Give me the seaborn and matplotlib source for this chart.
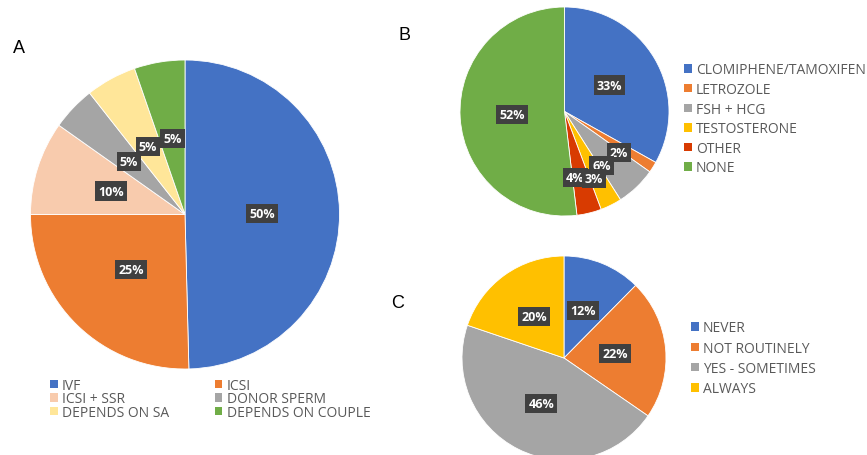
import matplotlib
matplotlib.use("Agg")
import matplotlib.pyplot as plt
import seaborn as sns
import numpy as np
from matplotlib.patches import Patch

sns.set_theme(style="white")
plt.rcParams['font.family'] = ['Open Sans', 'DejaVu Sans']

# ---------------- data ----------------
a_labels = ["IVF", "ICSI", "ICSI + SSR", "DONOR SPERM", "DEPENDS ON SA", "DEPENDS ON COUPLE"]
a_values = [49.6, 25.4, 9.8, 4.6, 5.3, 5.3]

b_labels = ["CLOMIPHENE/TAMOXIFEN", "LETROZOLE", "FSH + HCG", "TESTOSTERONE", "OTHER", "NONE"]
b_values = [33.1, 1.7, 6.2, 3.3, 3.8, 51.9]

c_labels = ["NEVER", "NOT ROUTINELY", "YES - SOMETIMES", "ALWAYS"]
c_values = [12.4, 22.2, 45.6, 19.8]

# ---------------- styles ----------------
a_colors = ["#4472C4", "#ED7D31", "#F8CBAD", "#A5A5A5", "#FFE699", "#70AD47"]
b_colors = ["#4472C4", "#ED7D31", "#A5A5A5", "#FFC000", "#D83B01", "#70AD47"]
c_colors = ["#4472C4", "#ED7D31", "#A5A5A5", "#FFC000"]
# label placement tweaks for pie B (radial distance, clockwise angle offset, stacking order)
b_label_dist = [0.5, 0.65, 0.625, 0.70, 0.64, 0.5]
b_label_shift = [0, 4.6, 8.8, 2.7, 4.5, 0]
b_label_z = [5, 5, 5, 6, 5, 5]

W, H = 867, 456
fig = plt.figure(figsize=(W / 100, H / 100), dpi=100)
fig.patch.set_facecolor("white")

TXT = "#595959"
box = dict(boxstyle="square,pad=0.25", fc="#404040", ec="none")


def pie_ax(cx, cy, r):
    ax = fig.add_axes([(cx - r) / W, (H - cy - r) / H, 2 * r / W, 2 * r / H])
    return ax


def draw_pie(ax, values, colors):
    wedges, _, autotexts = ax.pie(
        values, colors=colors, startangle=90, counterclock=False, radius=1,
        wedgeprops=dict(edgecolor="white", linewidth=0.6),
        autopct="%.0f%%", pctdistance=0.5,
        textprops=dict(color="white", fontsize=9, fontweight="bold"),
    )
    for t in autotexts:
        t.set_bbox(box)
    ax.set_xlim(-1, 1)
    ax.set_ylim(-1, 1)
    ax.axis("off")
    return wedges, autotexts


def legend(labels, colors, x, y, ncol=1, order=None, **kw):
    handles = [Patch(facecolor=c, edgecolor="none") for c in colors]
    labs = list(labels)
    if order is not None:
        handles = [handles[i] for i in order]
        labs = [labs[i] for i in order]
    fig.legend(handles, labs, loc="upper left", bbox_to_anchor=(x / W, 1 - y / H),
               ncol=ncol, frameon=False, fontsize=10, labelcolor=TXT,
               handlelength=0.55, handleheight=0.55, handletextpad=0.3,
               borderpad=0, borderaxespad=0, **kw)


# Pie A
axA = pie_ax(185, 215.5, 154.5)
draw_pie(axA, a_values, a_colors)
legend(a_labels, a_colors, 50, 379, ncol=2, order=[0, 2, 4, 1, 3, 5],
       labelspacing=-0.12, columnspacing=3.3)

# Pie B
axB = pie_ax(564.5, 112.5, 104.5)
wB, tB = draw_pie(axB, b_values, b_colors)
for w, t, d, s, z in zip(wB, tB, b_label_dist, b_label_shift, b_label_z):
    ang = np.deg2rad((w.theta1 + w.theta2) / 2 - s)
    t.set_position((d * np.cos(ang), d * np.sin(ang)))
    t.set_zorder(z)
legend(b_labels, b_colors, 684, 63.5, labelspacing=0.33)

# Pie C
axC = pie_ax(564, 359, 102)
draw_pie(axC, c_values, c_colors)
legend(c_labels, c_colors, 691, 321.5, labelspacing=0.38)

for letter, x, y in [("A", 19, 49), ("B", 405, 36), ("C", 398, 303)]:
    fig.text(x / W, 1 - y / H, letter, ha="center", va="center", fontsize=13,
             family=["Liberation Sans", "DejaVu Sans"], color="black")

fig.savefig("out.png", dpi=100, facecolor="white")
